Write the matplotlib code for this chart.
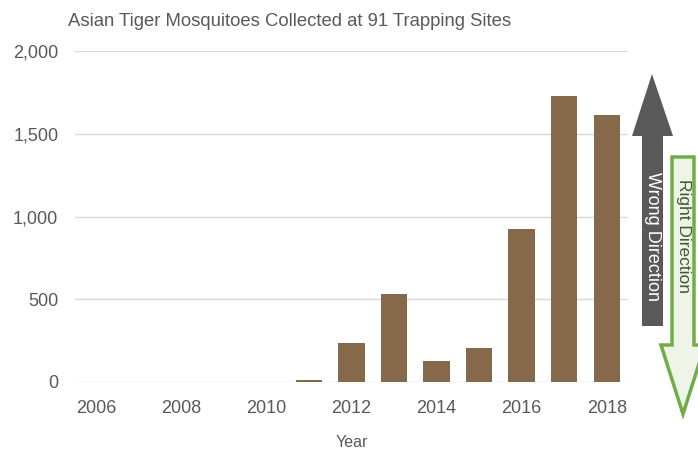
import matplotlib.pyplot as plt
from matplotlib.patches import Polygon
from matplotlib.ticker import FuncFormatter

years = [2006, 2007, 2008, 2009, 2010, 2011, 2012, 2013, 2014, 2015, 2016, 2017, 2018]
counts = [0, 0, 0, 0, 0, 12, 236, 532, 127, 205, 924, 1728, 1613]
xticks = [2006, 2008, 2010, 2012, 2014, 2016, 2018]
yticks = [0, 500, 1000, 1500, 2000]

W, H = 698, 451
plt.rcParams['font.family'] = ['Liberation Sans', 'DejaVu Sans']

fig = plt.figure(figsize=(W / 100, H / 100), dpi=100)
ax = fig.add_axes([75 / W, 1 - 382 / H, (628 - 75) / W, (382 - 51) / H])

ax.bar(years, counts, width=0.62, color='#86684a', zorder=3)
ax.set_xlim(2005.5, 2018.5)
ax.set_ylim(0, 2000)
ax.set_xticks(xticks)
ax.set_yticks(yticks)
ax.yaxis.set_major_formatter(FuncFormatter(lambda v, p: f'{int(v):,}'))
ax.grid(axis='y', color='#d9d9d9', linewidth=1, zorder=0)
for s in ax.spines.values():
    s.set_visible(False)
ax.tick_params(length=0, labelsize=13, colors='#595959')
ax.tick_params(axis='y', pad=12)
ax.tick_params(axis='x', pad=13)
ax.set_xlabel('Year', fontsize=11.5, color='#595959', labelpad=13)

fig.text(68 / W, 1 - 21 / H, 'Asian Tiger Mosquitoes Collected at 91 Trapping Sites',
         fontsize=13.3, color='#595959', va='center', ha='left')


def px(pts):
    # pixel coords (top-left origin) -> figure fraction
    return [(x / W, 1 - y / H) for x, y in pts]


# gray "wrong direction" arrow pointing up
up = [(642, 326), (642, 136), (632, 136), (652, 74), (673, 136), (663, 136), (663, 326)]
fig.patches.append(Polygon(px(up), closed=True, transform=fig.transFigure,
                           facecolor='#595959', edgecolor='none'))
fig.text(652.5 / W, 1 - 237 / H, 'Wrong Direction', rotation=-90, color='white',
         fontsize=13, ha='center', va='center')

# green "right direction" arrow pointing down
down = [(672, 157), (672, 345), (661, 345), (683, 414), (705, 345), (694, 345), (694, 157)]
fig.patches.append(Polygon(px(down), closed=True, transform=fig.transFigure,
                           facecolor='#eef5e8', edgecolor='#70ad47', linewidth=2.5))
fig.text(683 / W, 1 - 236 / H, 'Right Direction', rotation=-90, color='#3f5a2e',
         fontsize=12.5, ha='center', va='center')

fig.savefig('out.png', dpi=100)
